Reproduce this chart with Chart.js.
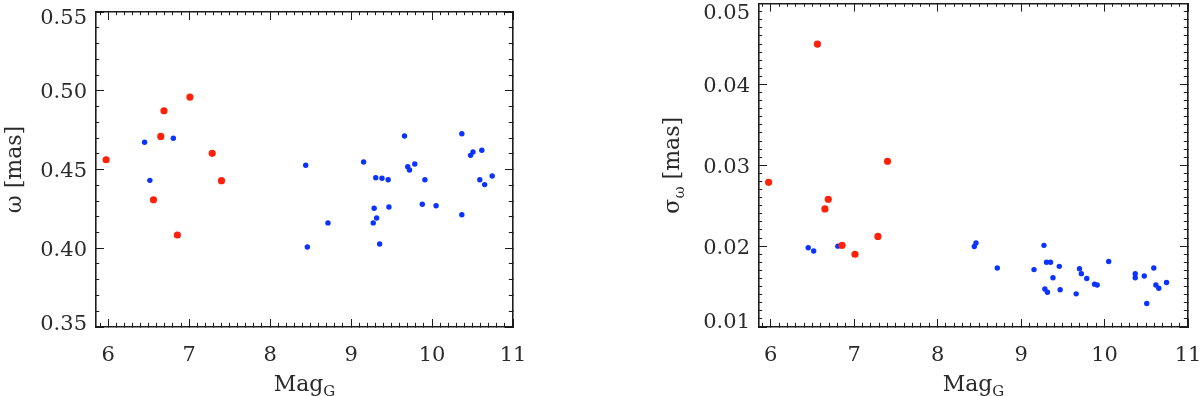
<!DOCTYPE html>
<html><head><meta charset="utf-8">
<script src="https://cdn.jsdelivr.net/npm/chart.js@4.4.1/dist/chart.umd.min.js"></script>
<style>
html,body{margin:0;padding:0;background:#fff;width:1200px;height:396px;overflow:hidden}
.panel{position:absolute;top:0;width:600px;height:396px}
canvas{display:block}
</style></head><body>
<div class="panel" style="left:0"><canvas id="c1" width="600" height="396"></canvas></div>
<div class="panel" style="left:600px"><canvas id="c2" width="600" height="396"></canvas></div>
<script>
// ---- data ----
const redMag          = [5.975, 6.56, 6.65, 6.69, 6.855, 7.01, 7.285, 7.40];
const redParallax     = [0.4562, 0.4308, 0.4710, 0.4873, 0.4084, 0.4960, 0.4603, 0.4429];
const redParallaxErr  = [0.0279, 0.0450, 0.0246, 0.0258, 0.0201, 0.0190, 0.0212, 0.0305];

const blueMag         = [6.45, 6.515, 6.805, 8.44, 8.46, 8.715, 9.155, 9.274, 9.285, 9.305, 9.316, 9.353, 9.382, 9.458, 9.468,
                         9.66, 9.70, 9.722, 9.787, 9.88, 9.912, 10.05, 10.368, 10.368, 10.476, 10.506, 10.59, 10.615, 10.65, 10.743];
const blueParallax    = [0.4673, 0.4431, 0.4698, 0.4527, 0.4008, 0.4161, 0.4548, 0.4161, 0.4254, 0.4448, 0.4192, 0.4027, 0.4444, 0.4435, 0.4262,
                         0.4713, 0.4518, 0.4497, 0.4535, 0.4279, 0.4435, 0.4270, 0.4727, 0.4213, 0.4590, 0.4611, 0.4435, 0.4622, 0.4404, 0.4459];
const blueParallaxErr = [0.0198, 0.0194, 0.0200, 0.01995, 0.0204, 0.0173, 0.0171, 0.0201, 0.0147, 0.0180, 0.0143, 0.0180, 0.0161, 0.0175, 0.0146,
                         0.0141, 0.0172, 0.0166, 0.0160, 0.0153, 0.0152, 0.0181, 0.0166, 0.0161, 0.0163, 0.0129, 0.0173, 0.0152, 0.0148, 0.0155];

// ---- tick labels ----
const magTickLabels      = ['6', '7', '8', '9', '10', '11'];
const parallaxTickLabels = ['0.35', '0.40', '0.45', '0.50', '0.55'];
const errTickLabels      = ['0.01', '0.02', '0.03', '0.04', '0.05'];

// ---- styles ----
const FONT = "'DejaVu Serif', 'Liberation Serif', serif";
const INK = '#1c1c1c';
const TEXT = '#2a2a2a';
const RED = '#ff2208';
const BLUE = '#0a33ff';
const TICK_SIZE = 21, TITLE_SIZE = 22, SUB_SIZE = 15;
const MAJOR_LEN = 8, MINOR_LEN = 4;

function labelFor(list, v) {
  for (const s of list) if (Math.abs(parseFloat(s) - v) < 1e-7) return s;
  return '';
}

function makeScale(o) {
  const vertical = o.position === 'left' || o.position === 'right';
  const innerStart = o.position === 'left' || o.position === 'top';
  return {
    type: 'linear',
    position: o.position,
    min: o.min, max: o.max,
    afterFit(s) {
      if (vertical) s.width = o.size; else s.height = o.size;
      s.paddingTop = 0; s.paddingBottom = 0; s.paddingLeft = 0; s.paddingRight = 0;
    },
    border: { display: true, color: INK, width: 1.6 },
    grid: {
      display: true, drawOnChartArea: false, drawTicks: true,
      tickLength: -MAJOR_LEN, tickColor: INK, tickWidth: 1,
      tickBorderDash: (c) => (c.tick && labelFor(o.labels, c.tick.value) !== '') ? [] :
        (innerStart ? [0, MAJOR_LEN - MINOR_LEN + 0.8, MINOR_LEN, 100] : [MINOR_LEN + 0.8, 100])
    },
    ticks: {
      stepSize: o.step, includeBounds: false, autoSkip: false, maxRotation: 0, minRotation: 0,
      display: !!o.showLabels, padding: o.padding || 0, labelOffset: o.labelOffset || 0,
      color: TEXT,
      font: (c) => {
        let lh = 1.2;
        if (c.tick && o.topShift && Math.abs(c.tick.value - o.max) < 1e-9) lh = (2 * o.topShift) + 'px';
        if (c.tick && o.bottomShift && Math.abs(c.tick.value - o.min) < 1e-9) lh = (2 * o.bottomShift) + 'px';
        return { family: FONT, size: TICK_SIZE, lineHeight: lh };
      },
      callback: (v) => {
        if (!o.showLabels) return '';
        const s = labelFor(o.labels, v);
        if (s && o.topShift && Math.abs(v - o.max) < 1e-9) return ['', s];
        if (s && o.bottomShift && Math.abs(v - o.min) < 1e-9) return [s, ''];
        return s;
      }
    }
  };
}

function drawRich(ctx, segs, cx, cy, rot) {
  ctx.save();
  ctx.translate(cx, cy);
  ctx.rotate(rot);
  ctx.fillStyle = TEXT;
  ctx.textBaseline = 'alphabetic';
  ctx.textAlign = 'left';
  const parts = segs.map(s => {
    const f = (s.sub ? SUB_SIZE : TITLE_SIZE) + 'px ' + FONT;
    ctx.font = f;
    return { t: s.t, f, w: ctx.measureText(s.t).width, dy: s.sub ? 5 : 0 };
  });
  const total = parts.reduce((a, p) => a + p.w, 0);
  let x = -total / 2;
  for (const p of parts) { ctx.font = p.f; ctx.fillText(p.t, x, p.dy); x += p.w; }
  ctx.restore();
}

const richTitles = {
  id: 'richTitles',
  afterDraw(chart, args, o) {
    const a = chart.chartArea, ctx = chart.ctx;
    drawRich(ctx, o.x, (a.left + a.right) / 2, o.xBaseline, 0);
    drawRich(ctx, o.y, o.yBaselineX, (a.top + a.bottom) / 2, -Math.PI / 2);
  }
};

function buildPanel(id, p) {
  new Chart(document.getElementById(id), {
    type: 'scatter',
    data: {
      datasets: [
        { label: 'red', data: redMag.map((m, i) => ({ x: m, y: p.redY[i] })),
          backgroundColor: RED, borderWidth: 0, pointRadius: 3.6, pointHoverRadius: 3.6 },
        { label: 'blue', data: blueMag.map((m, i) => ({ x: m, y: p.blueY[i] })),
          backgroundColor: BLUE, borderWidth: 0, pointRadius: 2.7, pointHoverRadius: 2.7 }
      ]
    },
    options: {
      responsive: false, animation: false, events: [],
      layout: { padding: { top: p.top, right: p.rightPad, left: 0, bottom: 0 } },
      plugins: {
        legend: { display: false }, tooltip: { enabled: false },
        richTitles: { x: p.xTitle, y: p.yTitle, xBaseline: 391, yBaselineX: p.yTitleX }
      },
      scales: {
        x:  makeScale({ position: 'bottom', min: p.xMin, max: 11, step: 0.1, labels: magTickLabels,
                        showLabels: true, size: 396 - 327, padding: 24 }),
        x2: makeScale({ position: 'top', min: p.xMin, max: 11, step: 0.1, labels: magTickLabels, size: 0 }),
        y:  makeScale({ position: 'left', min: p.yMin, max: p.yMax, step: p.yStep, labels: p.yLabels,
                        showLabels: true, size: p.left, padding: 17, labelOffset: 2,
                        topShift: p.topShift, bottomShift: p.bottomShift }),
        y2: makeScale({ position: 'right', min: p.yMin, max: p.yMax, step: p.yStep, labels: p.yLabels, size: 0 })
      }
    },
    plugins: [richTitles]
  });
}

buildPanel('c1', {
  redY: redParallax, blueY: blueParallax,
  top: 12, rightPad: 600 - 513, left: 96, xMin: 5.85,
  yMin: 0.35, yMax: 0.55, yStep: 0.01, yLabels: parallaxTickLabels,
  topShift: 5, bottomShift: 4,
  xTitle: [{ t: 'Mag' }, { t: 'G', sub: true }],
  yTitle: [{ t: 'ω [mas]' }],
  yTitleX: 21
});

buildPanel('c2', {
  redY: redParallaxErr, blueY: blueParallaxErr,
  top: 2, rightPad: 600 - 588, left: 159, xMin: 5.86,
  yMin: 0.01, yMax: 0.05, yStep: 0.001, yLabels: errTickLabels,
  topShift: 8, bottomShift: 6,
  xTitle: [{ t: 'Mag' }, { t: 'G', sub: true }],
  yTitle: [{ t: 'σ' }, { t: 'ω', sub: true }, { t: ' [mas]' }],
  yTitleX: 79
});
</script>
</body></html>
